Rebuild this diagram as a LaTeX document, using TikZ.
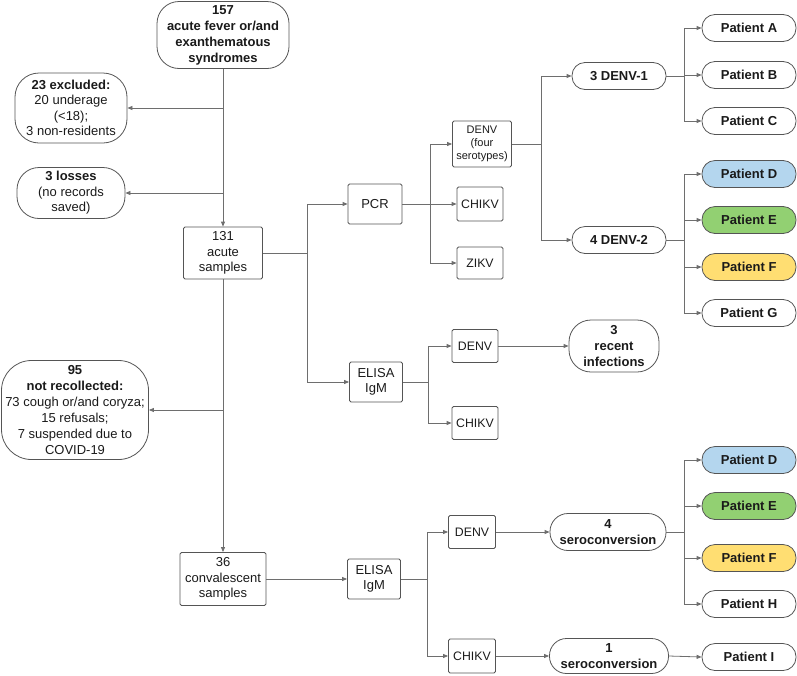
\documentclass[tikz,border=0pt]{standalone}
\usepackage{fontspec}
\setmainfont{Liberation Sans}
\usetikzlibrary{arrows.meta}
\definecolor{lncol}{HTML}{6E6E6E}
\definecolor{bdcol}{HTML}{555555}
\definecolor{pblue}{HTML}{B4D6EE}
\definecolor{pgreen}{HTML}{92D072}
\definecolor{pyellow}{HTML}{FFDE72}
\definecolor{txcol}{HTML}{1A1A1A}
\begin{document}
\begin{tikzpicture}[x=1pt,y=-1pt,
 base/.style={draw=bdcol, line width=0.8pt, inner sep=0pt, align=center, text=txcol, font=\fontsize{13}{15.5}\selectfont},
 sbox/.style={base, rounded corners=1.5pt},
 vbox/.style={sbox, font=\fontsize{12.3}{14}\selectfont},
 pill/.style={base, rounded corners=13pt, font=\fontsize{13}{15.5}\selectfont\bfseries},
 pat/.style={pill, minimum width=94pt, minimum height=27pt},
 arr/.style={draw=lncol, line width=0.8pt, -{Triangle[length=5pt,width=4pt]}},
 lnk/.style={draw=lncol, line width=0.8pt}
]
\useasboundingbox (0,0) rectangle (797,675);

% left column
\node[base, rounded corners=22pt, minimum width=132pt, minimum height=67pt, font=\fontsize{13}{16}\selectfont\bfseries] (top) at (223,35)
 {157\\acute fever or/and\\exanthematous\\syndromes};
\node[base, rounded corners=24pt, minimum width=112pt, minimum height=70pt] (excl) at (71,108)
 {\textbf{23 excluded:}\\20 underage\\(<18);\\3 non-residents};
\node[base, rounded corners=22pt, minimum width=108pt, minimum height=51pt] (loss) at (71,193)
 {\textbf{3 losses}\\(no records\\saved)};
\node[sbox, minimum width=79pt, minimum height=52pt] (s131) at (223,253)
 {131\\acute\\samples};
\node[base, rounded corners=30pt, minimum width=147pt, minimum height=99pt, font=\fontsize{13}{16}\selectfont] (notrec) at (75,410)
 {\textbf{95}\\\textbf{not recollected:}\\73 cough or/and coryza;\\15 refusals;\\7 suspended due to\\COVID-19};
\node[sbox, minimum width=86pt, minimum height=53pt] (s36) at (223,579)
 {36\\convalescent\\samples};

\coordinate (m1) at (223,108);
\coordinate (m2) at (223,193);
\coordinate (m3) at (223,410);
\draw[arr] (top) -- (s131);
\draw[arr] (m1) -- (excl.east);
\draw[arr] (m2) -- (loss.east);
\draw[arr] (s131) -- (s36);
\draw[arr] (m3) -- (notrec.east);

% PCR branch
\node[sbox, minimum width=54pt, minimum height=40pt] (pcr) at (375,204) {PCR};
\node[sbox, minimum width=53pt, minimum height=40pt] (eli1) at (376,382) {ELISA\\IgM};
\coordinate (j1) at (307,253);
\draw[lnk] (s131.east) -- (j1);
\draw[arr] (j1) |- (pcr.west);
\draw[arr] (j1) |- (eli1.west);

\node[sbox, minimum width=59pt, minimum height=46pt, font=\fontsize{11}{13}\selectfont] (dfour) at (482,144) {DENV\\(four\\serotypes)};
\node[vbox, minimum width=46pt, minimum height=34pt] (chik1) at (480,204) {CHIKV};
\node[vbox, minimum width=46pt, minimum height=32pt] (zikv) at (480,263) {ZIKV};
\coordinate (j2) at (430,204);
\draw[lnk] (pcr.east) -- (j2);
\draw[arr] (j2) |- (dfour.west);
\draw[arr] (j2) -- (chik1.west);
\draw[arr] (j2) |- (zikv.west);

\node[pill, minimum width=94pt, minimum height=27pt] (d1) at (619,76) {3 DENV-1};
\node[pill, minimum width=94pt, minimum height=27pt] (d2) at (619,240) {4 DENV-2};
\coordinate (j3) at (541,144);
\draw[lnk] (dfour.east) -- (j3);
\draw[arr] (j3) |- (d1.west);
\draw[arr] (j3) |- (d2.west);

\node[pat] (pA) at (749,28) {Patient A};
\node[pat] (pB) at (749,75) {Patient B};
\node[pat] (pC) at (749,121) {Patient C};
\node[pat, fill=pblue] (pD) at (749,174) {Patient D};
\node[pat, fill=pgreen] (pE) at (749,220) {Patient E};
\node[pat, fill=pyellow] (pF) at (749,267) {Patient F};
\node[pat] (pG) at (749,313) {Patient G};
\coordinate (j4) at (684,76);
\coordinate (j5) at (684,240);
\draw[lnk] (d1.east) -- (j4);
\draw[arr] (j4) |- (pA.west);
\draw[arr] (j4) |- (pB.west);
\draw[arr] (j4) |- (pC.west);
\draw[lnk] (d2.east) -- (j5);
\draw[arr] (j5) |- (pD.west);
\draw[arr] (j5) |- (pE.west);
\draw[arr] (j5) |- (pF.west);
\draw[arr] (j5) |- (pG.west);

% ELISA acute
\node[vbox, minimum width=46pt, minimum height=33pt] (denv3) at (475,346) {DENV};
\node[vbox, minimum width=46pt, minimum height=33pt] (chik3) at (475,423) {CHIKV};
\coordinate (j6) at (428,382);
\draw[lnk] (eli1.east) -- (j6);
\draw[arr] (j6) |- (denv3.west);
\draw[arr] (j6) |- (chik3.west);
\node[pill, rounded corners=22pt, minimum width=90pt, minimum height=52pt, font=\fontsize{13}{16}\selectfont\bfseries] (recent) at (614,346) {3\\recent\\infections};
\draw[arr] (denv3.east) -- (recent.west);

% ELISA convalescent
\node[sbox, minimum width=53pt, minimum height=40pt] (eli2) at (374,579) {ELISA\\IgM};
\draw[arr] (s36.east) -- (eli2.west);
\node[vbox, minimum width=47pt, minimum height=33pt] (denv4) at (472,532) {DENV};
\node[vbox, minimum width=47pt, minimum height=34pt] (chik4) at (472,656) {CHIKV};
\coordinate (j7) at (427,579);
\draw[lnk] (eli2.east) -- (j7);
\draw[arr] (j7) |- (denv4.west);
\draw[arr] (j7) |- (chik4.west);
\node[pill, rounded corners=18pt, minimum width=116pt, minimum height=37pt, font=\fontsize{13}{16}\selectfont\bfseries] (sero4) at (608,532) {4\\seroconversion};
\node[pill, rounded corners=17pt, minimum width=119pt, minimum height=35pt, font=\fontsize{13}{16}\selectfont\bfseries] (sero1) at (609,656) {1\\seroconversion};
\draw[arr] (denv4.east) -- (sero4.west);
\draw[arr] (chik4.east) -- (sero1.west);

\node[pat, fill=pblue] (qD) at (749,460) {Patient D};
\node[pat, fill=pgreen] (qE) at (749,506) {Patient E};
\node[pat, fill=pyellow] (qF) at (749,558) {Patient F};
\node[pat] (qH) at (749,604) {Patient H};
\node[pat] (qI) at (749,657) {Patient I};
\coordinate (j8) at (684,532);
\draw[lnk] (sero4.east) -- (j8);
\draw[arr] (j8) |- (qD.west);
\draw[arr] (j8) |- (qE.west);
\draw[arr] (j8) |- (qF.west);
\draw[arr] (j8) |- (qH.west);
\draw[arr] (sero1.east) -- (qI.west);
\end{tikzpicture}
\end{document}
